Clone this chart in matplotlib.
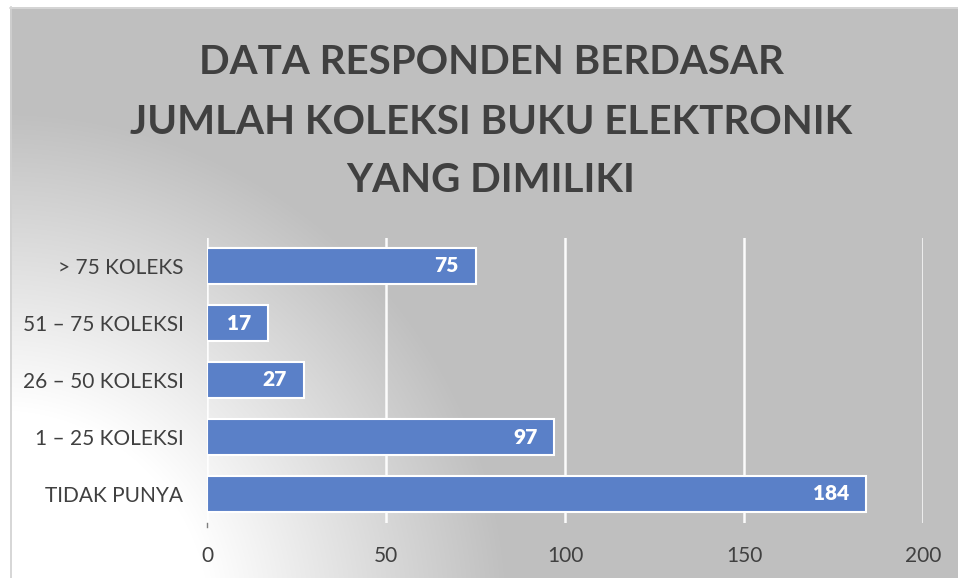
import numpy as np
import matplotlib
matplotlib.use("Agg")
import matplotlib.pyplot as plt

categories = ["TIDAK PUNYA", "1 – 25 KOLEKSI", "26 – 50 KOLEKSI", "51 – 75 KOLEKSI", "> 75 KOLEKS"]
values = [184, 97, 27, 17, 75]
xticks = [0, 50, 100, 150, 200]
title_lines = ["DATA RESPONDEN BERDASAR", "JUMLAH KOLEKSI BUKU ELEKTRONIK", "YANG DIMILIKI"]

W, H = 958, 578
fig = plt.figure(figsize=(W / 100, H / 100), dpi=100)
fig.patch.set_facecolor("white")

# background gradient (chart area from x=10, y=7)
bg = fig.add_axes([10 / W, 0, 1 - 10 / W, 1 - 7 / H], zorder=0)
bx0, by0 = 10, 7
ww, hh = W - bx0, H - by0
xs = np.arange(ww) + bx0
ys = np.arange(hh) + by0
X, Y = np.meshgrid(xs, ys)
cx, cy, R = 0, 620, 600
t = np.sqrt((X - cx) ** 2 + (Y - cy) ** 2) / R
f = np.clip((t - 0.35) / 0.5, 0, 1)
val = (255 - (255 - 191) * f) / 255.0
img = np.dstack([val, val, val])
bg.imshow(img, extent=[0, 1, 0, 1], aspect="auto", origin="upper", interpolation="bilinear")
bg.set_xlim(0, 1)
bg.set_ylim(0, 1)
bg.axis("off")
# border lines
fig.add_artist(plt.Line2D([10.5 / W, 10.5 / W], [0, 1 - 7 / H], color="#d0d0d0", lw=1.2))
fig.add_artist(plt.Line2D([10 / W, 1], [1 - 7.5 / H, 1 - 7.5 / H], color="#d9d9d9", lw=1.2))

ax = fig.add_axes([207 / W, (H - 522.5) / H, (923 - 207) / W, 285 / H], zorder=2)
ax.patch.set_alpha(0)
y = np.arange(len(categories))
ax.barh(y, values, height=0.625, color="#5a80c8", edgecolor="white", linewidth=1.5, zorder=3)
ax.set_xlim(0, 200)
ax.set_ylim(-0.5, 4.5)
ax.set_xticks(xticks)
ax.set_xticklabels([str(v) for v in xticks])
ax.set_yticks(y)
ax.set_yticklabels(categories)
for s in ax.spines.values():
    s.set_visible(False)
ax.grid(axis="x", color="white", lw=1.8, alpha=0.95, zorder=1)
ax.tick_params(axis="y", length=0, pad=17, labelsize=15, labelcolor="#404040")
ax.tick_params(axis="x", length=0, pad=17, labelsize=15, labelcolor="#404040")
for lab in ax.get_xticklabels() + ax.get_yticklabels():
    lab.set_fontfamily("Lato")
# tiny tick at 0
ax.plot([0, 0], [-0.5, -0.58], color="#7f7f7f", lw=1, clip_on=False)

for yi, v in zip(y, values):
    ax.text(v - 4.7, yi, str(v), ha="right", va="center", color="white",
            fontsize=15, fontweight="heavy", family="Lato", zorder=4)

for i, line in enumerate(title_lines):
    fig.text(491 / W, 1 - (63 + 59 * i) / H, line, ha="center", va="center",
             fontsize=29, fontweight="bold", family="Lato", color="#404040")

fig.savefig("out.png", dpi=100)
